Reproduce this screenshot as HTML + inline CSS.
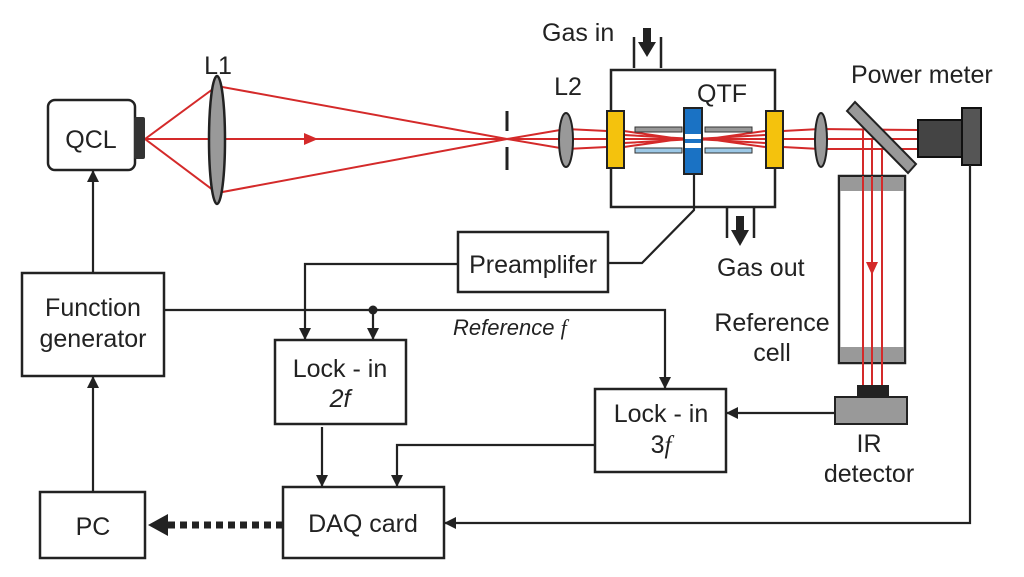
<!DOCTYPE html>
<html><head><meta charset="utf-8"><style>
html,body{margin:0;padding:0;background:#fff;}
svg{display:block;}
text{font-family:"Liberation Sans",sans-serif;fill:#222;}
</style></head><body>
<svg width="1024" height="577" viewBox="0 0 1024 577" xmlns="http://www.w3.org/2000/svg">
<defs>
<marker id="a" markerWidth="12" markerHeight="12" refX="11" refY="6" orient="auto" markerUnits="userSpaceOnUse"><path d="M0,0 L12,6 L0,12 z" fill="#222"/></marker>
</defs>
<g stroke="#d42a2a" stroke-width="2" fill="none">
<path d="M145,139 L217,86 L507,139 L217,193 Z"/>
<line x1="145" y1="139" x2="507" y2="139"/>
<path d="M507,139 L566,129 L607,131 M507,139 L566,149 L607,147 M507,139 L607,139"/>
<path d="M624,131 L694,141 L765,131 M624,147 L694,137 L765,147 M624,139 L765,139 M624,135 L765,143 M624,143 L765,135"/>
<path d="M783,131 L820,129 L918,130 M783,147 L820,149 L918,149 M783,139 L918,139"/>
</g>
<path d="M304,133 L318,139 L304,145 Z" fill="#d42a2a"/>
<rect x="48" y="100" width="87" height="70" rx="7" fill="#fff" stroke="#222" stroke-width="2.5"/>
<rect x="134" y="117" width="11" height="42" rx="2" fill="#333"/>
<text x="91" y="148" font-size="25" text-anchor="middle">QCL</text>
<ellipse cx="217" cy="140" rx="8" ry="64" fill="#999" stroke="#222" stroke-width="2.5"/>
<text x="218" y="74" font-size="25" text-anchor="middle">L1</text>
<line x1="507" y1="111" x2="507" y2="131" stroke="#222" stroke-width="3"/>
<line x1="507" y1="147" x2="507" y2="170" stroke="#222" stroke-width="3"/>
<ellipse cx="566" cy="140" rx="7" ry="27" fill="#999" stroke="#222" stroke-width="2"/>
<text x="568" y="95" font-size="25" text-anchor="middle">L2</text>
<rect x="611" y="70" width="164" height="137" fill="none" stroke="#222" stroke-width="2.5"/>
<line x1="634" y1="37" x2="634" y2="68" stroke="#222" stroke-width="2.5"/>
<line x1="661" y1="37" x2="661" y2="68" stroke="#222" stroke-width="2.5"/>
<path d="M643,28 L651,28 L651,42 L656,42 L647,57 L638,42 L643,42 Z" fill="#222"/>
<text x="542" y="41" font-size="25">Gas in</text>
<line x1="727" y1="208" x2="727" y2="238" stroke="#222" stroke-width="2.5"/>
<line x1="754" y1="208" x2="754" y2="238" stroke="#222" stroke-width="2.5"/>
<path d="M736,216 L744,216 L744,230 L749,230 L740,246 L731,230 L736,230 Z" fill="#222"/>
<text x="717" y="276" font-size="25">Gas out</text>
<rect x="607" y="111" width="17" height="57" fill="#f4c20d" stroke="#222" stroke-width="2"/>
<rect x="766" y="111" width="17" height="57" fill="#f4c20d" stroke="#222" stroke-width="2"/>
<g stroke="#333" stroke-width="1">
<rect x="635" y="127" width="47" height="5" fill="#999"/>
<rect x="635" y="148" width="47" height="5" fill="#9cc8e6"/>
<rect x="705" y="127" width="47" height="5" fill="#999"/>
<rect x="705" y="148" width="47" height="5" fill="#9cc8e6"/>
</g>
<rect x="684" y="108" width="18" height="66" fill="#1a72c4" stroke="#222" stroke-width="2"/>
<rect x="685" y="134" width="16" height="5" fill="#fff"/>
<rect x="685" y="143" width="16" height="5" fill="#fff"/>
<text x="697" y="102" font-size="25">QTF</text>
<ellipse cx="821" cy="140" rx="6" ry="27" fill="#999" stroke="#222" stroke-width="2"/>
<polygon points="847,111 855,102 916,164 908,173" fill="#999" stroke="#222" stroke-width="2"/>
<g stroke="#d42a2a" stroke-width="2"><line x1="863" y1="130" x2="863" y2="385"/><line x1="872" y1="139" x2="872" y2="262"/><line x1="872" y1="272" x2="872" y2="385"/><line x1="882" y1="149" x2="882" y2="385"/></g>
<path d="M866,262 L878,262 L872,275 Z" fill="#d42a2a"/>
<rect x="918" y="120" width="45" height="37" fill="#444" stroke="#111" stroke-width="2"/>
<rect x="962" y="108" width="19" height="57" fill="#555" stroke="#111" stroke-width="2"/>
<text x="851" y="83" font-size="25">Power meter</text>
<rect x="839" y="176" width="66" height="187" fill="none" stroke="#222" stroke-width="2.5"/>
<rect x="840" y="177" width="64" height="14" fill="#999"/>
<rect x="840" y="347" width="64" height="15" fill="#999"/>
<g stroke="#d42a2a" stroke-width="2"><line x1="863" y1="176" x2="863" y2="385"/><line x1="872" y1="176" x2="872" y2="262"/><line x1="872" y1="275" x2="872" y2="385"/><line x1="882" y1="176" x2="882" y2="385"/></g>
<text x="772" y="331" font-size="25" text-anchor="middle">Reference</text>
<text x="772" y="361" font-size="25" text-anchor="middle">cell</text>
<rect x="857" y="385" width="32" height="12" fill="#222"/>
<rect x="835" y="397" width="72" height="27" fill="#999" stroke="#222" stroke-width="2"/>
<text x="869" y="452" font-size="25" text-anchor="middle">IR</text>
<text x="869" y="482" font-size="25" text-anchor="middle">detector</text>
<g fill="#fff" stroke="#222" stroke-width="2.5">
<rect x="458" y="232" width="150" height="60"/>
<rect x="22" y="273" width="142" height="103"/>
<rect x="275" y="340" width="131" height="84"/>
<rect x="595" y="389" width="131" height="83"/>
<rect x="40" y="492" width="105" height="66"/>
<rect x="283" y="487" width="161" height="71"/>
</g>
<text x="533" y="273" font-size="25" text-anchor="middle">Preamplifer</text>
<text x="93" y="316" font-size="25" text-anchor="middle">Function</text>
<text x="93" y="347" font-size="25" text-anchor="middle">generator</text>
<text x="340" y="377" font-size="25" text-anchor="middle">Lock - in</text>
<text x="340" y="407" font-size="25" text-anchor="middle" font-style="italic" font-family="Liberation Serif">2f</text>
<text x="661" y="422" font-size="25" text-anchor="middle">Lock - in</text>
<text x="661" y="453" font-size="25" text-anchor="middle">3<tspan font-style="italic" font-family="Liberation Serif">f</tspan></text>
<text x="93" y="535" font-size="25" text-anchor="middle">PC</text>
<text x="363" y="532" font-size="25" text-anchor="middle">DAQ card</text>
<text x="453" y="335" font-size="22" font-style="italic">Reference <tspan font-family="Liberation Serif">f</tspan></text>
<g stroke="#222" stroke-width="2.2" fill="none">
<path d="M694,174 L694,210 L642,263 L608,263"/>
<path d="M458,264 L305,264 L305,339" marker-end="url(#a)"/>
<path d="M164,310 L665,310 L665,388" marker-end="url(#a)"/>
<path d="M373,310 L373,339" marker-end="url(#a)"/>
<path d="M93,273 L93,171" marker-end="url(#a)"/>
<path d="M93,492 L93,377" marker-end="url(#a)"/>
<path d="M322,427 L322,486" marker-end="url(#a)"/>
<path d="M595,445 L397,445 L397,486" marker-end="url(#a)"/>
<path d="M835,413 L727,413" marker-end="url(#a)"/>
<path d="M970,165 L970,523 L445,523" marker-end="url(#a)"/>
<path d="M283,525 L168,525" stroke-width="7" stroke-dasharray="7,5"/>
</g>
<path d="M148,525 L168,514 L168,536 Z" fill="#222"/>
<circle cx="373" cy="310" r="4.5" fill="#222"/>
</svg>
</body></html>
